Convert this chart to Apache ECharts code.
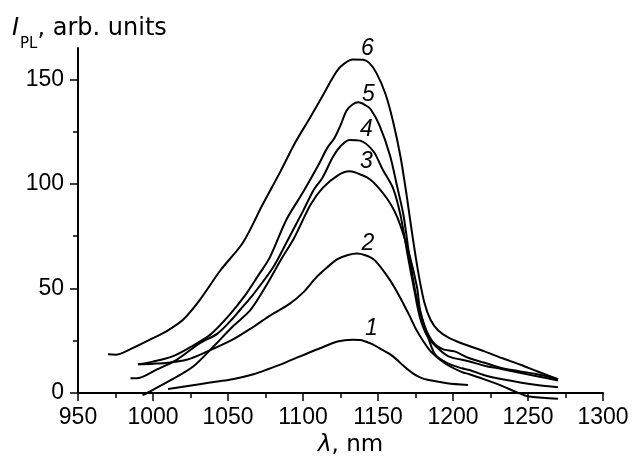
<!DOCTYPE html>
<html>
<head>
<meta charset="utf-8">
<script src="https://cdn.jsdelivr.net/npm/echarts@6/dist/echarts.min.js"></script>
<style>
  html, body { margin: 0; padding: 0; background: #fff; }
  #plChart { width: 632px; height: 462px; }
</style>
</head>
<body>
<div id="plChart"></div>
<script>
// PL spectra, [wavelength nm, intensity arb. units]
var curve1 = [[1010, 1.9], [1020, 3], [1031, 4.2], [1043, 5.5], [1053, 6.6], [1067, 9], [1077, 11.5], [1087, 14.2], [1098, 17.5], [1111, 21.3], [1123, 24.6], [1133, 25.5], [1138, 25.4], [1145, 23.7], [1152, 21], [1160, 17.5], [1167, 13], [1173, 9.5], [1178, 7.5], [1183, 6.3], [1196, 4.7], [1210, 3.8]]
var curve2 = [[990, 13.7], [1000, 14], [1010, 14.5], [1023, 16], [1036, 19.8], [1053, 25.5], [1067, 31.7], [1078, 37], [1091, 42.6], [1100, 48], [1109, 55.4], [1116, 60], [1123, 64], [1130, 66], [1136, 66.7], [1141, 66], [1147, 64], [1152, 60], [1158, 54], [1163, 48], [1167, 42.6], [1171, 37], [1175, 31], [1180, 25], [1185, 20], [1195, 14], [1206, 10], [1211, 9], [1221, 6.5], [1233, 3.3], [1242, 0.5], [1249, -1.4], [1260, -2.3], [1270, -2.8]]
var curve3 = [[993, -1], [996, 0], [1013, 6.6], [1027, 12.8], [1040, 22], [1053, 31.7], [1065, 39.7], [1076, 52], [1085, 63.4], [1094, 74], [1105, 90], [1113, 98], [1123, 104], [1131, 106], [1140, 104], [1145, 102], [1150, 98.5], [1156, 93], [1161, 87], [1165, 80], [1171, 66], [1176, 50.6], [1178, 40], [1182, 30], [1188, 18.5], [1197, 14], [1206, 11.8], [1211, 11], [1221, 8.5], [1233, 6.6], [1256, 3.8], [1270, 2.8]]
var curve4 = [[985, 7], [989, 7], [1003, 11.4], [1016, 16], [1031, 23.7], [1043, 28.4], [1053, 35.5], [1058, 39.7], [1067, 47.3], [1080, 60], [1089, 72], [1100, 87], [1107, 97], [1113, 103], [1120, 113], [1125, 118], [1131, 121], [1138, 120.7], [1147, 115.5], [1153, 107], [1160, 98], [1165, 85], [1170, 65], [1174, 50], [1178, 36], [1183, 27], [1189, 22], [1197, 17.5], [1211, 15.1], [1221, 13], [1233, 11.4], [1256, 8], [1270, 6]]
var curve5 = [[990, 13.7], [1000, 15], [1013, 17.5], [1025, 22], [1038, 27.8], [1051, 37.4], [1062, 47.3], [1070, 56], [1078, 65], [1089, 83], [1100, 96], [1111, 110], [1116, 117], [1121, 122], [1125, 128], [1129, 135], [1133, 138], [1137, 139], [1142, 137.5], [1145, 135.8], [1151, 128], [1158, 113.6], [1163, 98], [1167, 85], [1171, 65], [1175, 48], [1180, 34], [1186, 25], [1193, 21], [1201, 19.9], [1211, 16.6], [1221, 14.5], [1233, 11.8], [1256, 9], [1270, 6.6]]
var curve6 = [[970, 18.5], [975, 18.3], [985, 21], [998, 25.5], [1010, 30], [1020, 35], [1031, 44.3], [1045, 58.7], [1060, 72], [1073, 90], [1085, 106], [1095, 120], [1105, 132], [1113, 142], [1120, 151], [1125, 156], [1133, 159.5], [1140, 159.4], [1144, 158], [1149, 153], [1155, 143], [1160, 130], [1165, 113], [1169, 95], [1173, 75], [1177, 57], [1181, 43], [1185, 35], [1190, 30], [1197, 26.5], [1206, 23.7], [1221, 19.9], [1233, 16.6], [1245, 13.5], [1256, 10.4], [1270, 6.6]]

var curveNames = ['1', '2', '3', '4', '5', '6']
var xTicks = [950, 1300, 50]
var yMajor = [0, 50, 100, 150]
var yMinor = [25, 75, 125]

var font = "'Liberation Sans', Arial, sans-serif"
var nameFont = "'DejaVu Sans', sans-serif"
var curves = [curve1, curve2, curve3, curve4, curve5, curve6]
var labelOffsets = [[19, -11], [11, -10], [17, -10], [17, -10], [10, -8], [15, -11]]

var chart = echarts.init(document.getElementById('plChart'))

var series = curves.map(function (c, i) {
  return {
    name: curveNames[i],
    type: 'line',
    data: c,
    clip: false,
    showSymbol: false,
    smooth: 0.3,
    lineStyle: { color: '#000', width: 2 },
    markPoint: {
      symbol: 'circle',
      symbolSize: 1,
      itemStyle: { color: 'rgba(0,0,0,0)' },
      label: {
        show: true,
        position: 'inside',
        offset: labelOffsets[i],
        formatter: curveNames[i],
        color: '#000',
        fontFamily: font,
        fontStyle: 'italic',
        fontSize: 23
      },
      data: [{ type: 'max' }]
    }
  }
})

chart.setOption({
  animation: false,
  backgroundColor: '#fff',
  title: {
    left: 7,
    top: 12,
    text: '{i|I}{sub|PL}{n|, arb. units}',
    textStyle: {
      fontWeight: 'normal',
      rich: {
        i: { fontFamily: nameFont, fontSize: 24, fontStyle: 'italic', fontWeight: 'normal', color: '#000', verticalAlign: 'top' },
        sub: { fontFamily: nameFont, fontSize: 15, fontWeight: 'normal', color: '#000', lineHeight: 35, verticalAlign: 'bottom', padding: [0, 0, 0, 1] },
        n: { fontFamily: nameFont, fontSize: 24, fontWeight: 'normal', color: '#000', verticalAlign: 'top' }
      }
    }
  },
  grid: { left: 78, right: 29, top: 48, bottom: 65 },
  xAxis: {
    type: 'value',
    min: xTicks[0],
    max: xTicks[1],
    interval: xTicks[2],
    name: '{l|λ}{n|, nm}',
    nameLocation: 'middle',
    nameGap: 41,
    nameTextStyle: {
      padding: [0, 0, 0, 20],
      rich: {
        l: { fontFamily: nameFont, fontSize: 23, fontStyle: 'italic', color: '#000' },
        n: { fontFamily: nameFont, fontSize: 23, color: '#000' }
      }
    },
    axisLine: { lineStyle: { color: '#000', width: 2 } },
    axisTick: { length: 8, lineStyle: { color: '#000', width: 1.5 } },
    minorTick: { show: true, splitNumber: 2, length: 5, lineStyle: { color: '#000', width: 1.5 } },
    axisLabel: {
      fontFamily: font, fontSize: 23, color: '#000', margin: 13,
      formatter: function (v) { return String(v) }
    },
    splitLine: { show: false },
    minorSplitLine: { show: false }
  },
  yAxis: [
    {
      type: 'value',
      position: 'left',
      min: 0,
      max: 165,
      axisLine: { show: true, lineStyle: { color: '#000', width: 2 } },
      axisTick: { show: true, customValues: yMajor, length: 8, lineStyle: { color: '#000', width: 1.5 } },
      axisLabel: { customValues: yMajor, fontFamily: font, fontSize: 23, color: '#000', margin: 14 },
      splitLine: { show: false }
    },
    {
      type: 'value',
      position: 'left',
      min: 0,
      max: 165,
      axisLine: { show: false },
      axisTick: { show: true, customValues: yMinor, length: 5, lineStyle: { color: '#000', width: 1.5 } },
      axisLabel: { show: false },
      splitLine: { show: false }
    }
  ],
  series: series
})
</script>
</body>
</html>
